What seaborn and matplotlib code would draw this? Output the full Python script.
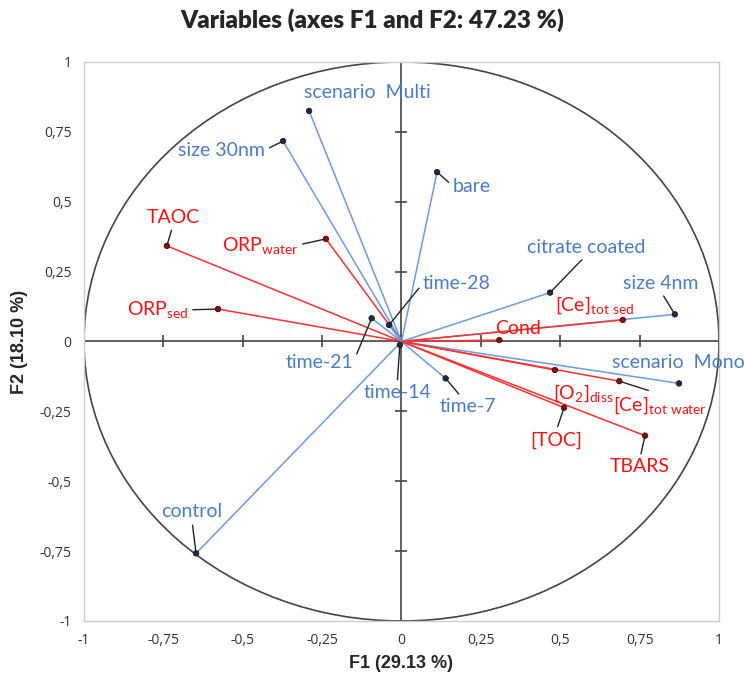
import numpy as np
import pandas as pd
import matplotlib
matplotlib.use('Agg')
import matplotlib.pyplot as plt
import seaborn as sns
from matplotlib.patches import Circle

sns.set_style('white')
plt.rcParams['font.family'] = ['Lato', 'DejaVu Sans']
plt.rcParams['mathtext.fontset'] = 'custom'
plt.rcParams['mathtext.rm'] = 'Lato'
plt.rcParams['mathtext.default'] = 'regular'

# PCA loadings
names = ['scenario  Multi', 'size 30nm', 'bare', 'TAOC', r'ORP$_{water}$', r'ORP$_{sed}$',
         'time-28', 'time-21', 'time-14', 'time-7', 'citrate coated', 'size 4nm',
         r'[Ce]$_{tot\ sed}$', 'Cond', 'scenario  Mono', r'[O$_2$]$_{diss}$',
         r'[Ce]$_{tot\ water}$', '[TOC]', 'TBARS', 'control']
f1 = [-0.291, -0.373, 0.112, -0.739, -0.238, -0.578,
      -0.039, -0.094, -0.005, 0.139, 0.468, 0.861,
      0.697, 0.308, 0.874, 0.483,
      0.686, 0.512, 0.767, -0.647]
f2 = [0.825, 0.717, 0.606, 0.342, 0.367, 0.116,
      0.059, 0.083, -0.012, -0.132, 0.175, 0.097,
      0.077, 0.005, -0.150, -0.102,
      -0.142, -0.237, -0.337, -0.758]
group = ['factor', 'factor', 'factor', 'var', 'var', 'var',
         'factor', 'factor', 'factor', 'factor', 'factor', 'factor',
         'var', 'var', 'factor', 'var',
         'var', 'var', 'var', 'factor']

df = pd.DataFrame({'name': names, 'F1': f1, 'F2': f2, 'group': group})

text_col = {'factor': '#4a7cc7', 'var': '#ff1010'}
line_col = {'factor': '#6b9be0', 'var': '#ff3030'}
dot_col = {'factor': '#1d2c4c', 'var': '#a00000'}

# label placement: (x, y, ha, relpos or None for no leader)
label_pos = [(-0.307, 0.889, 'left', None), (-0.430, 0.685, 'right', (1, 0.5)),
             (0.162, 0.556, 'left', (0, 0.5)), (-0.720, 0.445, 'center', (0.5, 0)),
             (-0.326, 0.345, 'right', (1, 0.5)), (-0.672, 0.113, 'right', (1, 0.5)),
             (0.068, 0.209, 'left', (0, 0.5)), (-0.153, -0.077, 'right', (1, 0.5)),
             (-0.014, -0.184, 'center', (0.5, 1)), (0.121, -0.234, 'left', (0.4, 1)),
             (0.581, 0.338, 'center', (0.5, 0)), (0.817, 0.209, 'center', (0.5, 0)),
             (0.483, 0.131, 'left', None), (0.294, 0.048, 'left', None),
             (0.663, -0.077, 'left', None), (0.477, -0.186, 'left', None),
             (0.814, -0.227, 'center', (0.5, 1)), (0.487, -0.352, 'center', (0.5, 1)),
             (0.751, -0.449, 'center', (0.5, 1)), (-0.660, -0.610, 'center', (0.5, 0))]

fig = plt.figure(figsize=(7.44, 6.78), dpi=100)
ax = fig.add_axes([0.1129, 0.0841, 0.8535, 0.8245])

ax.add_patch(Circle((0, 0), 1, fill=False, color='#444444', lw=1.2, zorder=1))
ax.axhline(0, color='#444444', lw=1.2, zorder=1)
ax.axvline(0, color='#444444', lw=1.2, zorder=1)
ticks = np.arange(-1, 1.01, 0.25)
ax.plot(ticks, np.zeros_like(ticks), ls='none', marker='|', ms=9, color='#444444', mew=1.2)
ax.plot(np.zeros_like(ticks), ticks, ls='none', marker='_', ms=9, color='#444444', mew=1.2)

for _, r in df.iterrows():
    ax.plot([0, r.F1], [0, r.F2], color=line_col[r.group], lw=1.1, zorder=2)

sns.scatterplot(data=df, x='F1', y='F2', hue='group', palette=dot_col, s=16,
                edgecolor='#111111', linewidth=0.5, legend=False, zorder=5, ax=ax)

for (_, r), (lx, ly, ha, rel) in zip(df.iterrows(), label_pos):
    kw = {}
    if rel is not None:
        kw['arrowprops'] = dict(arrowstyle='-', color='#222222', lw=1.0,
                                relpos=rel, shrinkA=1, shrinkB=1)
    ax.annotate(r['name'], xy=(r.F1, r.F2), xytext=(lx, ly), ha=ha, va='center',
                fontsize=14, color=text_col[r.group], annotation_clip=False, zorder=6, **kw)

ax.set_xlim(-1, 1)
ax.set_ylim(-1, 1)
ax.set_xticks(ticks)
ax.set_yticks(ticks)
lab = ['-1', '-0,75', '-0,5', '-0,25', '0', '0,25', '0,5', '0,75', '1']
ax.set_xticklabels(lab, fontfamily='Open Sans', fontsize=10, color='#333333')
ax.set_yticklabels(lab, fontfamily='Open Sans', fontsize=10, color='#333333')
ax.tick_params(length=0, pad=9)
for s in ax.spines.values():
    s.set_color('#cccccc')
    s.set_linewidth(1.0)

ax.set_xlabel('F1 (29.13 %)', fontfamily='Liberation Sans', fontweight='bold', fontsize=13, labelpad=5)
ax.set_ylabel('F2 (18.10 %)', fontfamily='Liberation Sans', fontweight='bold', fontsize=13, labelpad=8)
fig.suptitle('Variables (axes F1 and F2: 47.23 %)', x=0.5, y=0.988, fontsize=17.5, fontweight='heavy')

fig.savefig('out.png', dpi=100)
